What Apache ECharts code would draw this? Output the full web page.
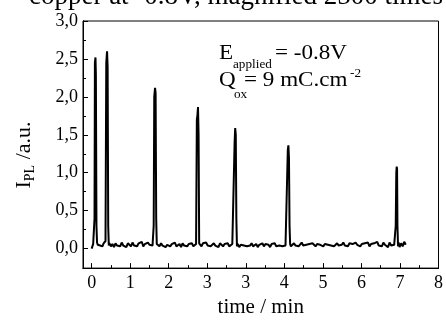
<!DOCTYPE html>
<html><head><meta charset="utf-8">
<script src="https://cdn.jsdelivr.net/npm/echarts@6/dist/echarts.min.js"></script>
<style>html,body{margin:0;padding:0;background:#fff}#c{width:446px;height:323px}</style>
</head><body><div id="c"></div>
<script>
// x tick labels as printed on the original axis (positions 0..9)
const xTickLabels = ["0","1","2","3","3","4","5","6","7","8"];
const yTickValues = [0, 0.5, 1.0, 1.5, 2.0, 2.5, 3.0];
// axis position (in tick units) of each trace point
const timePos = [
0.00,0.02,0.04,0.06,0.075,0.085,0.10,0.11,0.125,0.14,
0.16,0.19,0.22,0.25,0.28,0.31,0.34,
0.36,0.38,0.40,0.415,0.43,0.445,
0.46,0.50,0.54,0.58,0.62,0.66,0.70,0.74,0.78,0.82,0.86,0.90,0.94,0.98,1.02,1.06,1.10,1.14,1.18,1.22,1.26,1.30,1.34,1.38,1.42,1.46,1.50,1.54,1.58,
1.61,1.625,1.645,1.66,1.675,1.69,
1.72,1.76,1.80,1.84,1.88,1.92,1.96,2.00,2.04,2.08,2.12,2.16,2.20,2.24,2.28,2.32,2.36,2.40,2.44,2.48,2.52,2.56,2.60,2.64,2.68,2.71,
2.73,2.745,2.76,2.775,2.79,
2.81,2.85,2.89,2.93,2.97,3.01,3.05,3.09,3.13,3.17,3.21,3.25,3.29,3.33,3.37,3.41,3.45,3.49,3.53,3.57,3.61,3.65,3.69,
3.71,3.725,3.74,3.755,3.77,
3.79,3.83,3.87,3.91,3.95,3.99,4.03,4.07,4.11,4.15,4.19,4.23,4.27,4.31,4.35,4.39,4.43,4.47,4.51,4.55,4.59,4.63,4.67,4.71,4.75,4.79,4.83,4.87,4.91,4.95,4.99,5.03,5.07,
5.09,5.105,5.12,5.135,5.15,
5.17,5.21,5.25,5.29,5.33,5.37,5.41,5.45,5.49,5.53,5.57,5.61,5.65,5.69,5.73,5.77,5.81,5.85,5.89,5.93,5.97,6.01,6.05,6.09,6.13,6.17,6.21,6.25,6.29,6.33,6.37,6.41,6.45,6.49,6.53,6.57,6.61,6.65,6.69,6.73,6.77,6.81,6.85,6.89,
6.93,6.97,7.01,7.05,7.09,7.13,7.17,7.21,7.25,7.29,7.33,7.37,7.41,7.45,7.49,7.53,7.57,7.61,7.65,7.69,7.73,7.77,7.81,7.85,7.89,
7.905,7.915,7.925,7.935,7.95,7.965,
7.99,8.03,8.07,8.11,8.15,8.18
];
// photoluminescence intensity (a.u.)
const intensity = [
0.00,0.03,0.06,0.05,0.40,2.45,2.52,2.30,0.30,0.08,
0.05,0.07,0.04,0.06,0.03,0.07,0.05,
0.10,2.45,2.60,2.40,0.30,0.04,
0.07,0.03,0.06,0.02,0.07,0.04,0.06,0.03,0.08,0.04,0.05,0.02,0.07,0.05,0.03,0.08,0.04,0.06,0.03,0.07,0.05,0.09,0.03,0.06,0.04,0.08,0.05,0.07,0.04,
0.30,2.00,2.12,2.05,0.40,0.06,
0.05,0.03,0.07,0.04,0.06,0.02,0.05,0.07,0.03,0.06,0.04,0.08,0.03,0.05,0.06,0.02,0.07,0.04,0.05,0.03,0.06,0.04,0.07,0.03,0.05,0.06,
1.70,1.76,1.865,1.50,0.07,
0.06,0.03,0.07,0.05,0.08,0.04,0.06,0.03,0.05,0.07,0.04,0.06,0.02,0.07,0.05,0.03,0.06,0.04,0.07,0.03,0.05,0.06,0.04,
1.40,1.59,1.50,0.40,0.03,
0.06,0.02,0.05,0.07,0.04,0.06,0.03,0.05,0.04,0.07,0.03,0.05,0.06,0.02,0.05,0.04,0.07,0.03,0.06,0.04,0.05,0.02,0.06,0.04,0.07,0.03,0.05,0.04,0.06,0.03,0.05,0.04,0.06,
1.30,1.36,1.20,0.30,0.06,
0.03,0.05,0.07,0.04,0.06,0.03,0.05,0.08,0.04,0.06,0.05,0.03,0.06,0.04,0.07,0.05,0.03,0.06,0.04,0.05,0.07,0.03,0.06,0.04,0.05,0.07,0.04,0.06,0.03,0.05,0.07,0.04,0.06,0.05,0.08,0.04,0.06,0.03,0.07,0.05,0.06,0.04,0.08,
0.05,0.07,0.03,0.06,0.04,0.07,0.05,0.08,0.03,0.06,0.04,0.07,0.05,0.09,0.04,0.06,0.03,0.08,0.05,0.07,0.02,0.08,0.04,0.06,0.05,
0.30,1.00,1.08,1.05,0.30,0.03,
0.08,0.02,0.07,0.03,0.09,0.05
];
const xMinor = [0.5,1.5,2.5,3.5,4.5,5.5,6.5,7.5,8.5];
const yMinor = [0.25,0.75,1.25,1.75,2.25,2.75];

const FONT = '"Liberation Serif", "DejaVu Serif", serif';
const chart = echarts.init(document.getElementById('c'), null, {renderer: 'canvas'});
const points = timePos.map((x, i) => [x, intensity[i]]);
const baseX = {
  type: 'value', min: -0.224, max: 9, gridIndex: 0,
  axisLine: {show: true, onZero: false, lineStyle: {color: '#000', width: 1}},
  splitLine: {show: false}
};
const baseY = {
  type: 'value', min: -0.257, max: 3.0, gridIndex: 0,
  axisLine: {show: true, onZero: false, lineStyle: {color: '#000', width: 1}},
  splitLine: {show: false}
};
function txt(str, x, y, size, sx) {
  return {type: 'text', x: x, y: y, scaleX: sx || 1.1, z: 10,
    style: {text: str, fill: '#000', font: size + 'px ' + FONT, verticalAlign: 'middle', align: 'left'}};
}
chart.setOption({
  animation: false,
  grid: {left: 83, right: 4, top: 21, bottom: 40, show: true, borderColor: '#000', borderWidth: 1},
  xAxis: [
    Object.assign({}, baseX, {
      position: 'bottom',
      axisTick: {show: true, inside: true, length: 5, lineStyle: {color: '#000'}, customValues: [0,1,2,3,4,5,6,7,8,9]},
      axisLabel: {show: true, customValues: [0,1,2,3,4,5,6,7,8,9], formatter: v => xTickLabels[Math.round(v)],
        color: '#000', fontFamily: FONT, fontSize: 18, margin: 6},
      name: 'time / min', nameLocation: 'middle', nameGap: 27,
      nameTextStyle: {color: '#000', fontFamily: FONT, fontSize: 21}
    }),
    Object.assign({}, baseX, {
      position: 'bottom',
      axisTick: {show: true, inside: true, length: 3, lineStyle: {color: '#000'}, customValues: xMinor},
      axisLabel: {show: false}
    })
  ],
  yAxis: [
    Object.assign({}, baseY, {
      position: 'left',
      axisTick: {show: true, inside: true, length: 5, lineStyle: {color: '#000'}, customValues: yTickValues},
      axisLabel: {show: true, customValues: yTickValues, formatter: v => v.toFixed(1).replace('.', ','),
        color: '#000', fontFamily: FONT, fontSize: 18, margin: 5}
    }),
    Object.assign({}, baseY, {
      position: 'left',
      axisTick: {show: true, inside: true, length: 3, lineStyle: {color: '#000'}, customValues: yMinor},
      axisLabel: {show: false}
    })
  ],
  series: [{
    type: 'line', xAxisIndex: 0, yAxisIndex: 0, data: points, showSymbol: false, symbol: 'none',
    lineStyle: {color: '#000', width: 2}, clip: true
  }],
  graphic: [
    {type: 'text', x: 236, y: -17, style: {text: 'copper at -0.8V, magnified 2500 times', align: 'center',
      fill: '#000', font: '27px ' + FONT}},
    {type: 'text', x: 24, y: 155, rotation: Math.PI / 2, style: {
      text: '{m|I}{s|PL}{m| /a.u.}', align: 'center', verticalAlign: 'middle',
      rich: {
        m: {fontFamily: FONT, fontSize: 22, fill: '#000'},
        s: {fontFamily: FONT, fontSize: 14, fill: '#000', padding: [12,0,0,0]}
      }
    }},
    txt('E', 219, 53, 21),
    txt('applied', 233, 64.5, 12, 1.1),
    txt('= -0.8V', 275, 53, 21),
    txt('Q', 219, 80.5, 21),
    txt('ox', 234, 95, 12, 1.1),
    txt('= 9 mC.cm', 244, 80.5, 21),
    txt('-2', 350, 73.5, 12, 1.1)
  ]
});
</script></body></html>
